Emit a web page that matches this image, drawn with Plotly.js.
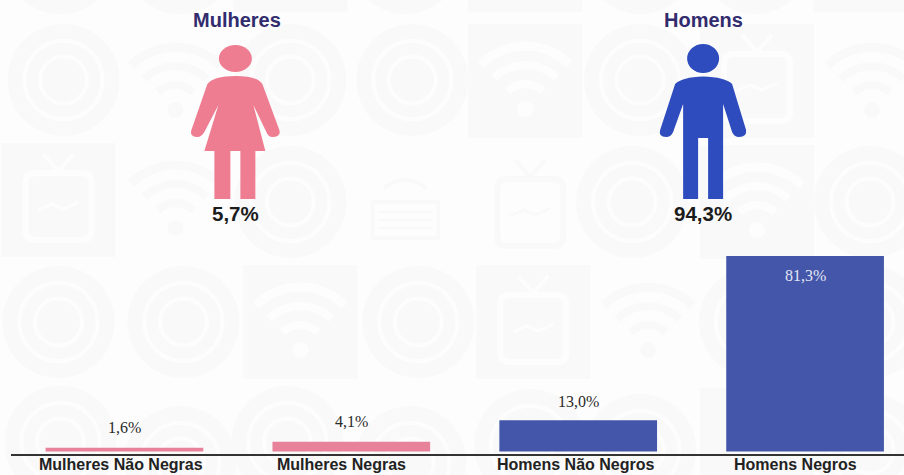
<!DOCTYPE html>
<html><head><meta charset="utf-8">
<script src="https://cdn.plot.ly/plotly-3.0.1.min.js"></script>
<style>html,body{margin:0;padding:0;background:#fdfdfd;overflow:hidden}</style>
</head><body><div id="chart" style="width:904px;height:475px"></div>
<script>
const categories = ['Mulheres Não Negras','Mulheres Negras','Homens Não Negros','Homens Negros'];
const values = [1.6, 4.1, 13.0, 81.3];
const valueLabels = ['1,6%','4,1%','13,0%','81,3%'];
const barColors = ['#e8829b','#e8829b','#4356a9','#4356a9'];
const labelColors = ['#2a2a2a','#2a2a2a','#2a2a2a','#e4e6f4'];
const labelShifts = [20, 20, 19, -20];
const tickShifts = [-3.5, -10, -3, -10];
const groupNames = ['Mulheres','Homens'];
const groupShares = ['5,7%','94,3%'];

const L = 10.5, W = 893.5, PH = 454;
const px = x => (x - L) / W;
const py = y => 1 - y / PH;
const P = (x, y) => px(x).toFixed(5) + ',' + py(y).toFixed(5);

function pathFrom(cmds){
  return cmds.map(c => {
    const k = c[0], a = c.slice(1);
    if (k === 'Z') return 'Z';
    let s = k + ' ';
    for (let i = 0; i < a.length; i += 2) s += P(a[i], a[i+1]) + ' ';
    return s;
  }).join(' ');
}
const shapes = [];
function circle(cx, cy, rx, ry, fill, line, lw){
  shapes.push({type:'circle', xref:'paper', yref:'paper', layer:'below',
    x0:px(cx-rx), x1:px(cx+rx), y0:py(cy+ry), y1:py(cy-ry),
    fillcolor:fill, line:{color:line||fill, width:lw||0}});
}
function poly(cmds, fill, line, lw, layer){
  shapes.push({type:'path', xref:'paper', yref:'paper', layer:layer||'below', path:pathFrom(cmds),
    fillcolor:fill||'rgba(0,0,0,0)', line:{color:line||'rgba(0,0,0,0)', width:lw||0}});
}
const TILE = '#f9f9f9', LIGHT = '#fdfdfd';
function ring(cx, cy, r){
  r = r || 56;
  circle(cx, cy, r, r, TILE);
  circle(cx, cy, r*0.70, r*0.70, 'rgba(0,0,0,0)', LIGHT, 4);
  circle(cx, cy, r*0.42, r*0.42, 'rgba(0,0,0,0)', LIGHT, 4);
}
function tile(cx, cy){
  poly([['M',cx-57,cy-57],['L',cx+57,cy-57],['L',cx+57,cy+57],['L',cx-57,cy+57],['Z']], TILE);
}
function arc(cx, cy, r, col, lw){
  const n = 14, cmds = [];
  for (let i = 0; i <= n; i++){
    const t = (-135 + 90*i/n) * Math.PI/180;
    cmds.push([i ? 'L' : 'M', cx + r*Math.cos(t), cy + r*Math.sin(t)]);
  }
  poly(cmds, null, col, lw);
}
function wifi(cx, cy, filled){
  if (filled) tile(cx, cy);
  const col = filled ? LIGHT : TILE;
  const d = cy + 28;
  arc(cx, d, 63, col, 9);
  arc(cx, d, 44, col, 8);
  arc(cx, d, 25, col, 8);
  circle(cx, d, 8, 8, col);
}
function tv(cx, cy, filled){
  if (filled) tile(cx, cy);
  const col = filled ? LIGHT : TILE;
  const x0 = cx-33, x1 = cx+33, y0 = cy-27, y1 = cy+40, q = 10;
  poly([['M',x0+q,y0],['L',x1-q,y0],['Q',x1,y0,x1,y0+q],['L',x1,y1-q],['Q',x1,y1,x1-q,y1],['L',x0+q,y1],['Q',x0,y1,x0,y1-q],['L',x0,y0+q],['Q',x0,y0,x0+q,y0],['Z']], null, col, 6);
  poly([['M',cx-15,cy-46],['L',cx,cy-29],['L',cx+15,cy-46]], null, col, 4);
  poly([['M',cx-20,cy+10],['L',cx-7,cy+4],['L',cx+5,cy+9],['L',cx+20,cy+2]], null, col, 3);
}
function radio(cx, cy){
  poly([['M',cx-33,cy+2],['L',cx+33,cy+2],['L',cx+33,cy+38],['L',cx-33,cy+38],['Z']], null, TILE, 4);
  for (const d of [12,20,28]) poly([['M',cx-28,cy+d],['L',cx+28,cy+d]], null, TILE, 2);
  arc(cx, cy+10, 30, TILE, 4);
}
// background watermark pattern
ring(60,-42); ring(180,-42); tile(290,-45); ring(405,-42); tile(525,-45); ring(640,-42); ring(755,-42); tile(870,-45);
ring(63,80); wifi(175,82); ring(290,80); ring(412,80); wifi(525,81,true); ring(640,80); tv(757,81,true); wifi(872,82);
tv(58,200,true); wifi(175,200); ring(290,202); radio(405,200); tv(530,206); ring(632,202); wifi(757,202,true); ring(870,202);
ring(58,322); ring(183,322); wifi(300,322,true); ring(418,322); tv(533,322,true); wifi(648,322); ring(755,322); ring(870,322);
ring(60,442); ring(180,462); ring(287,442); ring(410,462); ring(530,445); ring(640,450); tile(757,445); ring(870,450);

// pictograms
const PINK = '#ee7d92', BLUE = '#2f4cbe';
circle(235, 58.5, 16.5, 13.5, PINK);
poly([['M',235,76],['Q',257,76,262,84],['L',279,130],['Q',281,137,272,137],['Q',268,137,266,132],['L',253,105],
  ['L',265,151],['L',255,151],['L',255,199],['L',240,199],['L',240,151],['L',230,151],['L',230,199],['L',214,199],['L',214,151],['L',204,151],
  ['L',218,105],['L',204,132],['Q',201,137,197,137],['Q',189,137,191,130],['L',207,84],['Q',213,76,235,76],['Z']], PINK);
circle(703, 58.5, 16, 14.5, BLUE);
poly([['M',703,76.5],['Q',725,77,732,84],['L',746,130],['Q',747,137,739,137],['Q',734,137,732,132],['L',723,104],
  ['L',723,199],['L',708,199],['L',708,138],['L',698,138],['L',698,199],['L',683,199],['L',683,104],
  ['L',673,132],['Q',671,137,666,137],['Q',658,137,660,130],['L',675,84],['Q',682,77,703,76.5],['Z']], BLUE);

const annotations = categories.map((c,i) => ({
  x:c, y:values[i], xref:'x', yref:'y', text:valueLabels[i], showarrow:false, xanchor:'center', yanchor:'middle', yshift:labelShifts[i],
  font:{family:'Liberation Serif, serif', size:16, color:labelColors[i]}
}));
categories.forEach((c,i) => annotations.push({
  x:c, xref:'x', yref:'paper', y:py(464), text:'<b>'+c+'</b>', showarrow:false, xanchor:'center', yanchor:'middle', xshift:tickShifts[i],
  font:{family:'Liberation Sans, Arial, sans-serif', size:16, color:'#222'}
}));
const groupX = [237, 703];
const shareX = [235, 703];
groupNames.forEach((g,i) => {
  annotations.push({xref:'paper', yref:'paper', x:px(groupX[i]), y:py(20), text:'<b>'+g+'</b>', showarrow:false,
    xanchor:'center', yanchor:'middle', font:{family:'Liberation Sans, Arial, sans-serif', size:20, color:'#322c6e'}});
  annotations.push({xref:'paper', yref:'paper', x:px(shareX[i]), y:py(213), text:'<b>'+groupShares[i]+'</b>', showarrow:false,
    xanchor:'center', yanchor:'middle', font:{family:'Liberation Sans, Arial, sans-serif', size:20.5, color:'#1c1c1c'}});
});

Plotly.newPlot('chart', [{
  type:'bar', x:categories, y:values, marker:{color:barColors, line:{width:0}}, width:0.695, hoverinfo:'skip', cliponaxis:false
}], {
  width:904, height:475, showlegend:false,
  margin:{l:L, r:0, t:0, b:475-PH, pad:0},
  paper_bgcolor:'#fdfdfd', plot_bgcolor:'rgba(0,0,0,0)',
  xaxis:{type:'category', categoryorder:'array', categoryarray:categories, range:[-0.5,3.436], showline:true, linecolor:'#333', linewidth:1.5,
    showgrid:false, zeroline:false, ticks:'', showticklabels:false},
  yaxis:{range:[-1.04,187.7], visible:false, showgrid:false, zeroline:false},
  shapes:shapes, annotations:annotations
}, {staticPlot:true, displayModeBar:false});
</script></body></html>
